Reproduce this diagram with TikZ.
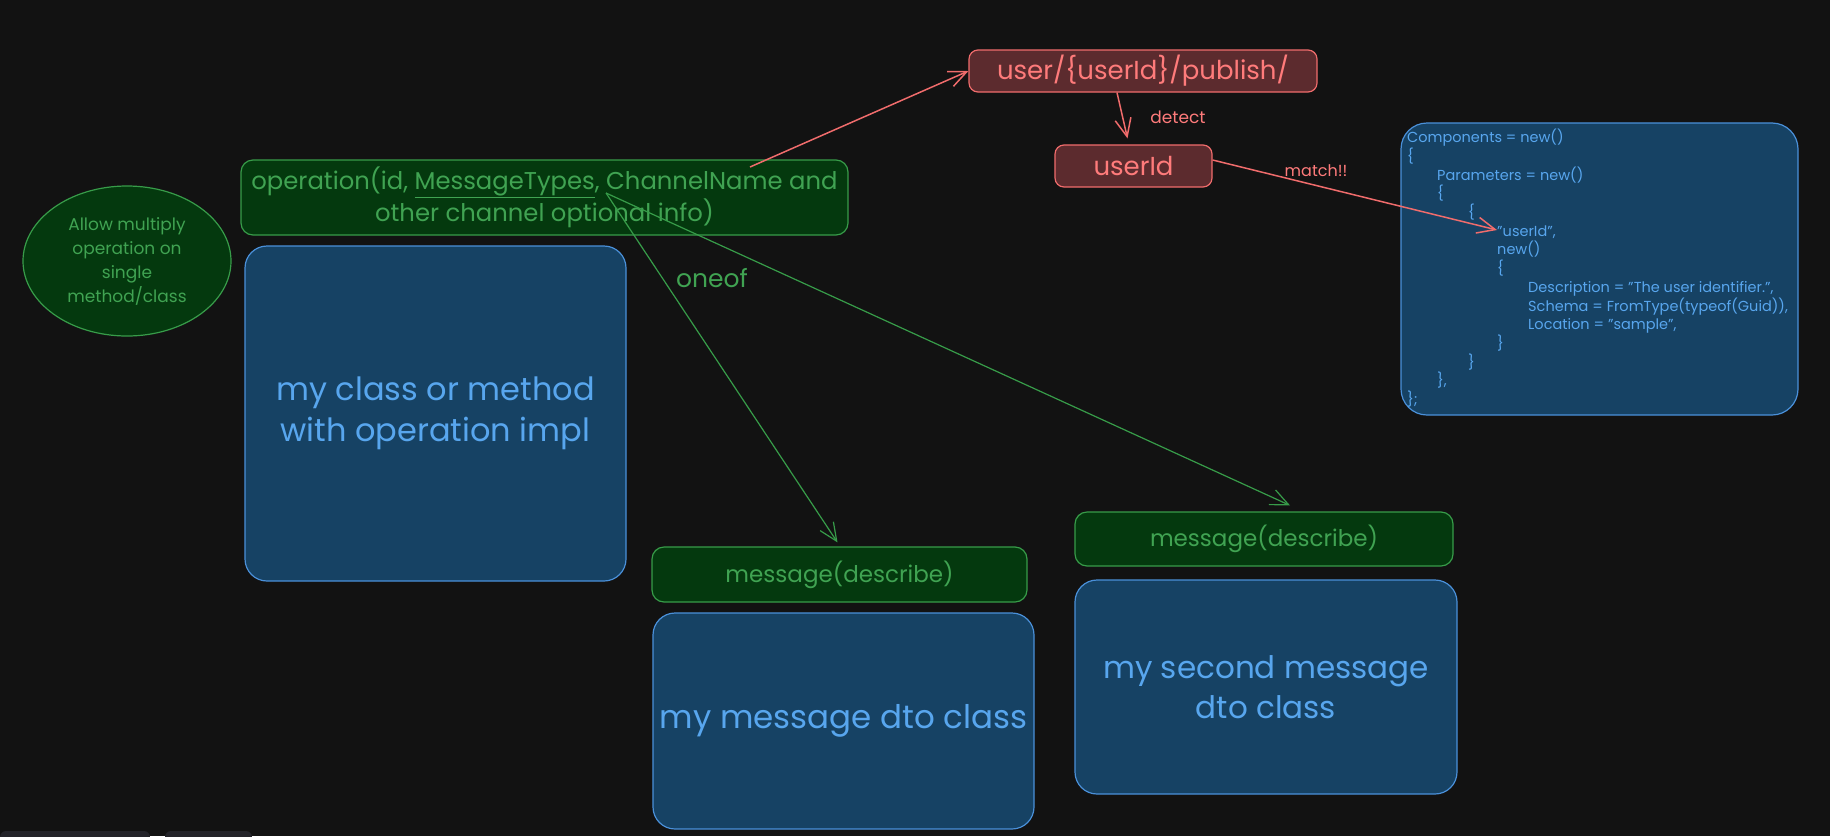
\documentclass[tikz,border=0pt]{standalone}
\usepackage{fontspec}
\setmainfont{Poppins}
\usetikzlibrary{arrows.meta,shapes.geometric}
\definecolor{bg}{HTML}{121212}
\definecolor{gfill}{HTML}{04390E}
\definecolor{gline}{HTML}{379C49}
\definecolor{gtext}{HTML}{40A352}
\definecolor{bfill}{HTML}{164264}
\definecolor{bline}{HTML}{4A90D9}
\definecolor{btext}{HTML}{58A6EE}
\definecolor{rfill}{HTML}{5C2B2E}
\definecolor{rline}{HTML}{F06C6C}
\definecolor{rtext}{HTML}{FF7B7B}
\definecolor{tabc}{HTML}{232329}
\newcommand\myfs[2]{\fontsize{#1}{#2}\selectfont}
\begin{document}
\begin{tikzpicture}[x=1pt,y=-1pt,
  box/.style={draw, line width=1.2pt, rounded corners=#1, inner sep=0pt, align=center},
  box/.default=12pt,
  gbox/.style={box=#1, draw=gline, fill=gfill, text=gtext},
  gbox/.default=12pt,
  bbox/.style={box=#1, draw=bline, fill=bfill, text=btext},
  bbox/.default=22pt,
  rbox/.style={box=#1, draw=rline, fill=rfill, text=rtext},
  rbox/.default=9pt,
  rarrow/.style={draw=rline, line width=1.5pt, -{Straight Barb[length=18pt,width=16pt]}},
  garrow/.style={draw=gline, line width=1.2pt, -{Straight Barb[length=18pt,width=16pt]}},
  lbl/.style={inner sep=0pt}
]
\fill[bg] (0,0) rectangle (1830,836);
\useasboundingbox (0,0) rectangle (1830,836);
% bottom UI tabs
\fill[tabc, rounded corners=6pt] (0,831) rectangle (150,850);
\fill[tabc, rounded corners=6pt] (165,831) rectangle (252,850);

% nodes
\node[ellipse, draw=gline, fill=gfill, text=gtext, line width=1.2pt, minimum width=208pt, minimum height=150pt, inner sep=0pt, align=center, font=\myfs{17}{24}] (ell) at (127,261) {Allow multiply\\operation on\\single\\method/class};

\node[gbox, minimum width=607pt, minimum height=75pt, font=\myfs{24.3}{32}] (op) at (544.5,197.5) {operation(id, \underline{MessageTypes}, ChannelName and\\other channel optional info)};

\node[bbox, minimum width=381pt, minimum height=335pt, font=\myfs{32}{41}] (cls) at (435.5,413.5) {my class or method\\with operation impl};

\node[rbox, minimum width=348pt, minimum height=42pt, font=\myfs{26}{32}] (ch) at (1143,71) {user/\{userId\}/publish/};

\node[rbox, minimum width=157pt, minimum height=42pt, font=\myfs{26}{32}] (uid) at (1133.5,166) {userId};

\node[gbox, minimum width=375pt, minimum height=55pt, font=\myfs{23}{30}] (msg1) at (839.5,574.5) {message(describe)};
\node[bbox, minimum width=381pt, minimum height=216pt, font=\myfs{32.5}{41}] (dto1) at (843.5,721) {my message dto class};

\node[gbox, minimum width=378pt, minimum height=54pt, font=\myfs{23}{30}] (msg2) at (1264,539) {message(describe)};
\node[bbox, minimum width=382pt, minimum height=214pt, font=\myfs{31}{40}] (dto2) at (1266,687) {my second message\\dto class};

\node[bbox=26pt, minimum width=397pt, minimum height=292pt] (code) at (1599.5,269) {};
\node[lbl, anchor=north west, align=left, text=btext, font=\myfs{14.5}{18.7}] (codetext) at (1407,129) {%
Components = new()\\
\{\\
\hspace*{30pt}Parameters = new()\\
\hspace*{30pt}\{\\
\hspace*{61pt}\{\\
\hspace*{90pt}"userId",\\
\hspace*{90pt}new()\\
\hspace*{90pt}\{\\
\hspace*{121pt}Description = "The user identifier.",\\
\hspace*{121pt}Schema = FromType(typeof(Guid)),\\
\hspace*{121pt}Location = "sample",\\
\hspace*{90pt}\}\\
\hspace*{61pt}\}\\
\hspace*{30pt}\},\\
\};};

% labels
\node[lbl, text=rtext, font=\myfs{17}{20}] (detect) at (1178,117) {detect};
\node[lbl, text=rtext, font=\myfs{16}{20}] (match) at (1316,171) {match!!};
\node[lbl, text=gtext, font=\myfs{25}{28}] (oneof) at (712,278) {oneof};

% connectors
\coordinate (opA) at (750,167);
\coordinate (opB) at (606,193);
\coordinate (codeA) at (1497,230);
\draw[rarrow] (opA) -- (ch.west);
\draw[rarrow] ([xshift=-26pt]ch.south) -- ([xshift=-6pt,yshift=6pt]uid.north);
\draw[rarrow] ([yshift=6pt]uid.east) -- (codeA);
\draw[garrow] (opB) -- ([xshift=-2pt,yshift=4pt]msg1.north);
\draw[garrow] (opB) -- ([xshift=26pt,yshift=6pt]msg2.north);
\end{tikzpicture}
\end{document}
